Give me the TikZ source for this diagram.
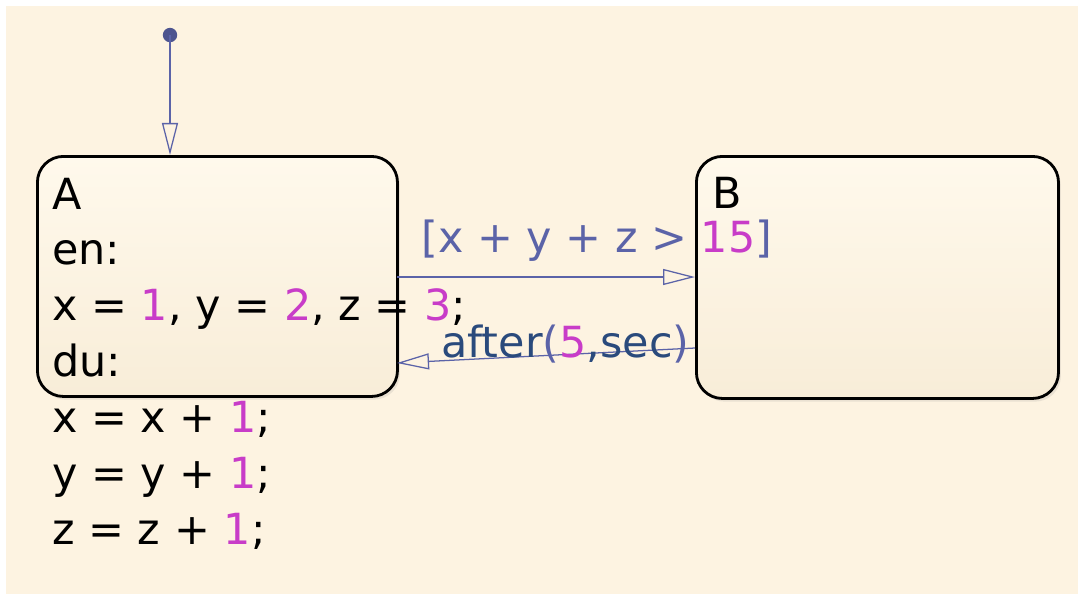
\documentclass[tikz,border=0pt]{standalone}
\usepackage{fontspec}
\setmainfont{DejaVu Sans}
\usepackage{xcolor}
\usepackage{tikz}
\usetikzlibrary{arrows.meta,positioning,shadows}
\definecolor{Canvas}{HTML}{FDF3E1}
\definecolor{StateTop}{HTML}{FFF9EC}
\definecolor{StateBot}{HTML}{F8EDD8}
\definecolor{TransBlue}{HTML}{5B63A8}
\definecolor{ActNavy}{HTML}{2A4A7C}
\definecolor{NumPink}{HTML}{C83CC8}
\newcommand{\num}[1]{\textcolor{NumPink}{#1}}

\begin{document}
\begin{tikzpicture}[x=0.025cm,y=-0.025cm,
  chart/.style={font=\fontsize{30.5}{39.7}\selectfont},
  state/.style={draw=black,line width=2pt,rounded corners=0.65cm,top color=StateTop,bottom color=StateBot,
    drop shadow={shadow xshift=0.06cm,shadow yshift=-0.08cm,opacity=0.15},inner sep=0pt},
  trans/.style={draw=TransBlue,line width=0.9pt,-{Triangle[open,length=0.8cm,width=0.4cm]}},
  lbl/.style={inner sep=0pt,anchor=base west,text=TransBlue}
]
\useasboundingbox[fill=white] (0,0) rectangle (1078,594);
\fill[Canvas] (6,6) rectangle (1078,594);

% states
\node[state,minimum width=9cm,minimum height=6cm,anchor=north west] (stA) at (36,155) {};
\node[state,minimum width=9.05cm,minimum height=6.05cm,anchor=north west] (stB) at (695,155) {};
\node[chart,inner sep=0pt,anchor=base west] (nameB) at (712,208) {B};
\node[chart,inner sep=0pt,anchor=base west,align=left] (actA) at (52,544)
  {A\\en:\\x = \num{1}, y = \num{2}, z = \num{3};\\du:\\x = x + \num{1};\\y = y + \num{1};\\z = z + \num{1};};

% default transition
\fill[TransBlue!85!black] (170,35) circle (0.18cm);
\coordinate (start) at (170,35);
\draw[trans] (start) -- (stA.north west -| start);

% transitions between states
\coordinate (aout) at (397,277);
\coordinate (bin) at (695,277);
\draw[trans] (aout) -- (bin);
\coordinate (bout) at (695,348);
\coordinate (ain) at (397,363);
\draw[trans] (bout) -- (ain);

% labels
\node[chart,lbl] (guard) at (421,252) {[x + y + z > \num{15}]};
\node[chart,lbl] (after) at (441,357)
  {\textcolor{ActNavy}{after}(\num{5}\textcolor{ActNavy}{,sec})};
\end{tikzpicture}
\end{document}
